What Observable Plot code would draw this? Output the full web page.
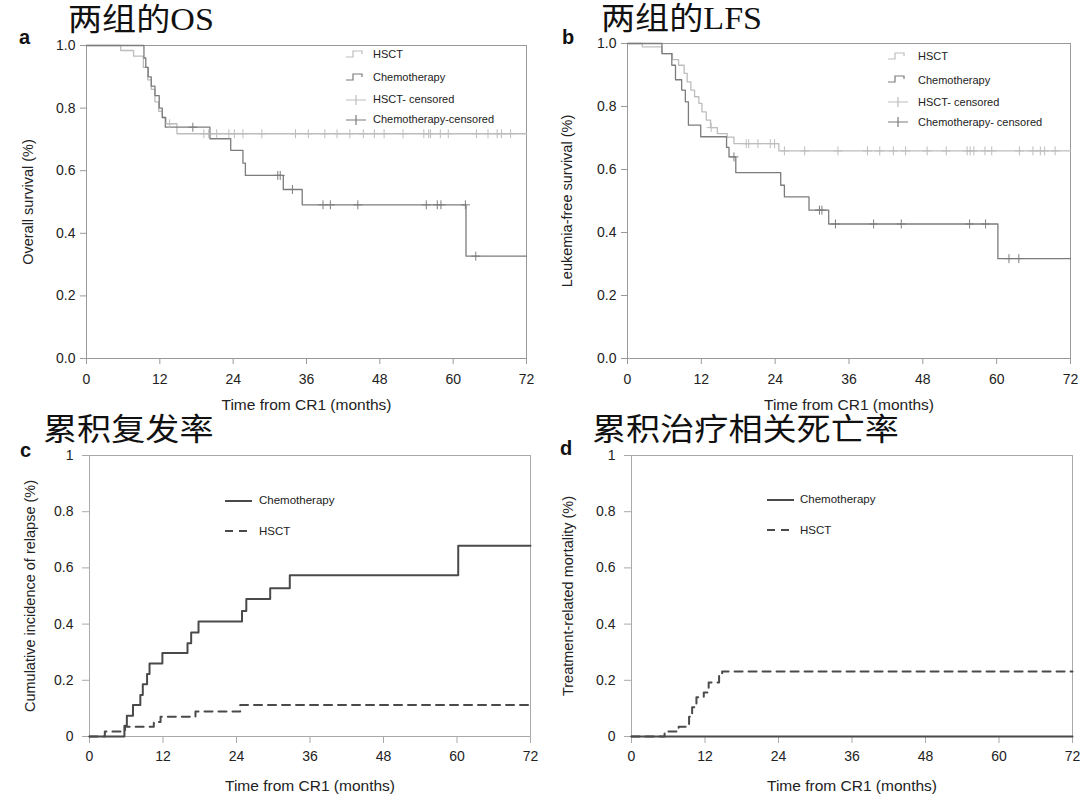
<!DOCTYPE html>
<html><head><meta charset="utf-8">
<script src="https://cdn.jsdelivr.net/npm/d3@7"></script>
<script src="https://cdn.jsdelivr.net/npm/@observablehq/plot@0.6"></script>
<style>
body{margin:0;background:#fff;}
#page{position:relative;width:1080px;height:799px;overflow:hidden;background:#fff;font-family:"Liberation Sans",Arial,Helvetica,sans-serif;color:#222;}
.title{position:absolute;font-family:"Liberation Serif","Noto Sans CJK SC","Noto Sans CJK JP",serif;font-size:31px;line-height:31px;color:#111;white-space:nowrap;transform:scaleX(1.1);transform-origin:0 0;}
.letter{position:absolute;font-weight:bold;font-size:20px;line-height:20px;color:#111;}
.panel{position:absolute;}
.lg{position:absolute;white-space:nowrap;color:#222;}
.lg svg{position:absolute;overflow:visible;}
</style></head>
<body><div id="page"></div>
<script>
// ---------- data ----------
const monthTicks = [0, 12, 24, 36, 48, 60, 72];
const survTicks = [0, 0.2, 0.4, 0.6, 0.8, 1.0];
const incTicks = [0, 0.2, 0.4, 0.6, 0.8, 1];

// a: overall survival
const osHsctT  = [0, 5.6, 7.7, 9.3, 10.0, 10.6, 11.2, 11.8, 12.4, 13.0, 14.8, 72];
const osHsctS  = [1, 0.984, 0.966, 0.93, 0.89, 0.86, 0.82, 0.79, 0.77, 0.75, 0.718, 0.718];
const osChemoT = [0, 9.4, 9.7, 10.1, 10.6, 11.2, 11.9, 12.4, 12.9, 20.2, 23.6, 25.6, 26.0, 32.2, 35.3, 62.1, 72];
const osChemoS = [1, 0.96, 0.93, 0.90, 0.87, 0.84, 0.80, 0.77, 0.739, 0.702, 0.665, 0.624, 0.585, 0.54, 0.491, 0.327, 0.327];
const osHsctCens  = [13.6, 19.2, 20.0, 21.3, 23.3, 24.2, 25.6, 28.7, 34.2, 36.3, 39.0, 41.0, 43.1, 45.3, 47.1, 48.7, 51.8, 55.2, 56.0, 56.3, 57.9, 59.2, 63.8, 65.7, 67.2, 67.9, 69.4];
const osChemoCens = [17.4, 31.3, 31.7, 33.7, 38.7, 39.9, 44.4, 55.6, 57.4, 58.0, 62.0, 63.7];

// b: leukemia-free survival
const lfsHsctT  = [0, 2.4, 5.6, 7.3, 8.3, 9.2, 9.7, 10.3, 10.9, 11.6, 12.1, 12.8, 13.5, 14.6, 16.2, 17.3, 24.6, 72];
const lfsHsctS  = [1, 0.989, 0.968, 0.949, 0.931, 0.905, 0.878, 0.852, 0.831, 0.81, 0.783, 0.757, 0.733, 0.714, 0.703, 0.682, 0.659, 0.659];
const lfsChemoT = [0, 5.6, 7.2, 7.8, 8.8, 9.4, 9.9, 11.9, 16.1, 16.5, 17.6, 24.9, 25.5, 29.5, 32.7, 60.2, 72];
const lfsChemoS = [1, 0.968, 0.931, 0.885, 0.852, 0.815, 0.741, 0.704, 0.670, 0.640, 0.590, 0.550, 0.513, 0.471, 0.427, 0.317, 0.317];
const lfsHsctCens  = [13.6, 19.3, 19.7, 21.2, 23.2, 23.9, 25.5, 28.8, 34.2, 39.0, 41.0, 43.2, 45.2, 48.7, 51.8, 55.2, 55.7, 56.3, 58.1, 59.2, 63.7, 65.9, 67.1, 67.8, 69.5];
const lfsChemoCens = [17.3, 31.2, 31.6, 33.8, 40.0, 44.5, 55.6, 58.2, 62.0, 63.6];

// c: cumulative incidence of relapse
const cirChemoT = [0, 5.7, 6.1, 7.1, 8.3, 8.7, 9.4, 9.8, 11.9, 16.0, 16.6, 17.8, 24.9, 25.6, 29.5, 32.7, 60.2, 72];
const cirChemoS = [0, 0.038, 0.074, 0.112, 0.148, 0.186, 0.222, 0.260, 0.297, 0.332, 0.370, 0.409, 0.447, 0.489, 0.528, 0.574, 0.679, 0.679];
const cirHsctT  = [0, 2.5, 5.8, 10.5, 11.6, 17.3, 24.6, 72];
const cirHsctS  = [0, 0.018, 0.035, 0.052, 0.070, 0.089, 0.112, 0.112];

// d: treatment-related mortality
const trmChemoT = [0, 72];
const trmChemoS = [0, 0];
const trmHsctT  = [0, 5.4, 7.7, 9.4, 9.9, 10.6, 11.8, 12.6, 14.3, 14.8, 72];
const trmHsctS  = [0, 0.018, 0.035, 0.07, 0.104, 0.140, 0.157, 0.192, 0.216, 0.231, 0.231];

// ---------- helpers ----------
const zip = (T, S) => T.map((t, i) => ({t, s: S[i]}));
const stepAt = (T, S, t) => { let v = S[0]; for (let i = 0; i < T.length; i++) if (T[i] <= t) v = S[i]; return v; };
const cens = (C, T, S) => C.map(t => ({t, s: stepAt(T, S, t)}));

const page = document.getElementById("page");
function addDiv(cls, text, left, top, extra = {}) {
  const d = document.createElement("div");
  d.className = cls; d.textContent = text;
  d.style.left = left + "px"; d.style.top = top + "px";
  Object.assign(d.style, extra);
  page.appendChild(d); return d;
}

const LIGHT = "#bdbdbd", DARK = "#7c7c7c", INK = "#4a4a4a";

function makePanel(o) {
  const chart = Plot.plot({
    width: o.width, height: o.height,
    marginLeft: o.ml, marginRight: o.mr, marginTop: o.mt, marginBottom: o.mb,
    x: {domain: [0, 72]},
    y: {domain: [0, 1]},
    style: {background: "transparent", fontFamily: '"Liberation Sans", Arial, sans-serif', color: "#222", overflow: "visible"},
    marks: [
      Plot.frame({stroke: o.frameColor}),
      Plot.axisX({ticks: monthTicks, tickSize: o.xTickSize, tickPadding: o.xTickPad, fontSize: 14, stroke: o.frameColor, label: null}),
      Plot.axisY({ticks: o.yTicks, tickFormat: o.yFmt, tickSize: o.yTickSize, tickPadding: o.yTickPad, fontSize: 14, stroke: o.frameColor, label: null}),
      Plot.text([o.xLabel], {frameAnchor: "bottom", lineAnchor: "middle", textAnchor: "middle", dy: o.xLabelDy, fontSize: 15.5, fill: "#222"}),
      Plot.text([o.yLabel], {frameAnchor: "left", lineAnchor: "middle", textAnchor: "middle", rotate: -90, dx: o.yLabelDx, fontSize: 14.5, fill: "#222"}),
      ...o.marks
    ]
  });
  const d = document.createElement("div");
  d.className = "panel"; d.style.left = o.left + "px"; d.style.top = o.top + "px";
  d.appendChild(chart); page.appendChild(d);
}

function kmMarks(hT, hS, cT, cS, hC, cC) {
  return [
    Plot.line(zip(hT, hS), {x: "t", y: "s", curve: "step-after", stroke: LIGHT, strokeWidth: 1.3}),
    Plot.line(zip(cT, cS), {x: "t", y: "s", curve: "step-after", stroke: DARK, strokeWidth: 1.3}),
    Plot.dot(cens(hC, hT, hS), {x: "t", y: "s", symbol: "plus", r: 3, stroke: LIGHT, strokeWidth: 1}),
    Plot.dot(cens(cC, cT, cS), {x: "t", y: "s", symbol: "plus", r: 3, stroke: DARK, strokeWidth: 1})
  ];
}

// ---------- panels ----------
makePanel({
  left: 0, top: 0, width: 540, height: 420, ml: 86, mr: 14, mt: 45, mb: 62,
  frameColor: "#999", xTickSize: 6, xTickPad: 10, yTickSize: 6, yTickPad: 5,
  yTicks: survTicks, yFmt: d3.format(".1f"),
  xLabel: "Time from CR1 (months)", xLabelDy: 47,
  yLabel: "Overall survival (%)", yLabelDx: -58,
  marks: kmMarks(osHsctT, osHsctS, osChemoT, osChemoS, osHsctCens, osChemoCens)
});
makePanel({
  left: 540, top: 0, width: 540, height: 420, ml: 87, mr: 10, mt: 43, mb: 62,
  frameColor: "#999", xTickSize: 6, xTickPad: 10, yTickSize: 6, yTickPad: 5,
  yTicks: survTicks, yFmt: d3.format(".1f"),
  xLabel: "Time from CR1 (months)", xLabelDy: 47,
  yLabel: "Leukemia-free survival (%)", yLabelDx: -60,
  marks: kmMarks(lfsHsctT, lfsHsctS, lfsChemoT, lfsChemoS, lfsHsctCens, lfsChemoCens)
});
makePanel({
  left: 0, top: 420, width: 540, height: 379, ml: 89, mr: 10, mt: 35, mb: 63,
  frameColor: "#aaa", xTickSize: 7, xTickPad: 8, yTickSize: 7, yTickPad: 9,
  yTicks: incTicks, yFmt: d3.format(""),
  xLabel: "Time from CR1 (months)", xLabelDy: 50,
  yLabel: "Cumulative incidence of relapse (%)", yLabelDx: -59,
  marks: [
    Plot.line(zip(cirHsctT, cirHsctS), {x: "t", y: "s", curve: "step-after", stroke: INK, strokeWidth: 2, strokeDasharray: "8,6"}),
    Plot.line(zip(cirChemoT, cirChemoS), {x: "t", y: "s", curve: "step-after", stroke: INK, strokeWidth: 2})
  ]
});
makePanel({
  left: 540, top: 420, width: 540, height: 379, ml: 91, mr: 8, mt: 35, mb: 63,
  frameColor: "#aaa", xTickSize: 7, xTickPad: 8, yTickSize: 7, yTickPad: 9,
  yTicks: incTicks, yFmt: d3.format(""),
  xLabel: "Time from CR1 (months)", xLabelDy: 50,
  yLabel: "Treatment-related mortality (%)", yLabelDx: -63,
  marks: [
    Plot.line(zip(trmHsctT, trmHsctS), {x: "t", y: "s", curve: "step-after", stroke: INK, strokeWidth: 2, strokeDasharray: "8,6"}),
    Plot.line(zip(trmChemoT, trmChemoS), {x: "t", y: "s", curve: "step-after", stroke: INK, strokeWidth: 2})
  ]
});

// ---------- titles and panel letters ----------
addDiv("title", "两组的OS", 68, 4);
addDiv("title", "两组的LFS", 601, 3);
addDiv("title", "累积复发率", 43, 414);
addDiv("title", "累积治疗相关死亡率", 592, 414);
addDiv("letter", "a", 19, 27);
addDiv("letter", "b", 562, 27);
addDiv("letter", "c", 20, 440);
addDiv("letter", "d", 560, 438);

// ---------- legends ----------
const stepIcon = "M0,8 H7 V2 H16 V5";
const censIcon = "M0,6 H20 M10,1 V11";
function legendRow(label, left, cy, iconLeft, iconW, path, color, dash, sw, fs) {
  const d = addDiv("lg", label, left, cy - fs * 0.6, {fontSize: fs + "px", lineHeight: (fs * 1.2) + "px"});
  const ns = "http://www.w3.org/2000/svg";
  const svg = document.createElementNS(ns, "svg");
  svg.setAttribute("width", iconW); svg.setAttribute("height", 12);
  svg.style.left = (iconLeft - left) + "px"; svg.style.top = (fs * 0.6 - 6) + "px";
  const p = document.createElementNS(ns, "path");
  p.setAttribute("d", path); p.setAttribute("fill", "none");
  p.setAttribute("stroke", color); p.setAttribute("stroke-width", sw);
  if (dash) p.setAttribute("stroke-dasharray", dash);
  svg.appendChild(p); d.appendChild(svg);
}
const kmLegend = [
  ["HSCT", stepIcon, LIGHT],
  ["Chemotherapy", stepIcon, DARK],
  ["HSCT- censored", censIcon, LIGHT],
  ["Chemotherapy-censored", censIcon, DARK]
];
const kmLegendB = ["HSCT", "Chemotherapy", "HSCT- censored", "Chemotherapy- censored"];
[55, 78, 100, 120].forEach((cy, i) => legendRow(kmLegend[i][0], 373, cy, 346, 20, kmLegend[i][1], kmLegend[i][2], null, 1.2, 11));
[57, 80.5, 102.5, 122.5].forEach((cy, i) => legendRow(kmLegendB[i], 918, cy, 888, 20, kmLegend[i][1], kmLegend[i][2], null, 1.2, 11));
const ciLegend = [["Chemotherapy", null], ["HSCT", "8,6"]];
[501, 531.5].forEach((cy, i) => legendRow(ciLegend[i][0], 259, cy, 225, 27, "M0,6 H27", INK, ciLegend[i][1], 2, 11.5));
[500, 530.5].forEach((cy, i) => legendRow(ciLegend[i][0], 800, cy, 767, 27, "M0,6 H27", INK, ciLegend[i][1], 2, 11.5));
</script>
</body></html>
